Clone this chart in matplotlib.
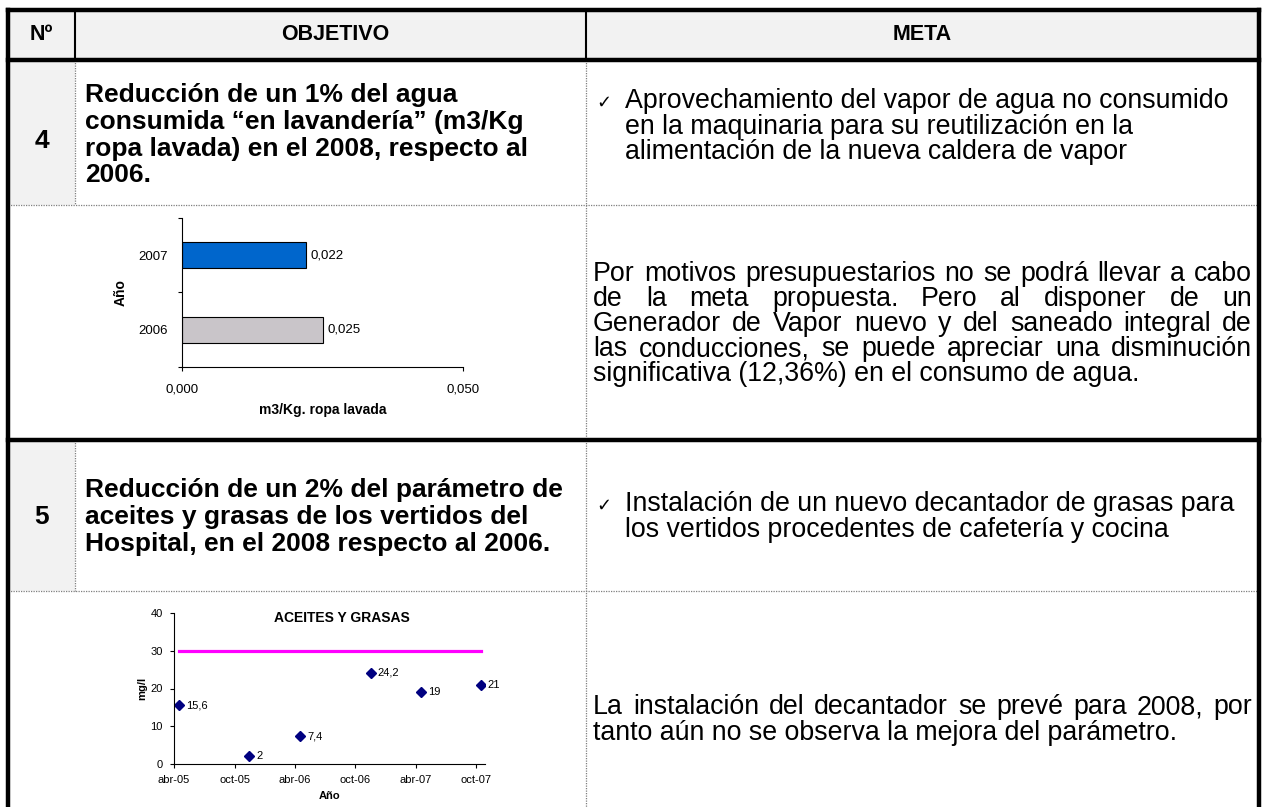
import matplotlib
matplotlib.use("Agg")
import matplotlib.pyplot as plt
from matplotlib.patches import Rectangle
import datetime as dt

plt.rcParams['font.family'] = ['Liberation Sans', 'DejaVu Sans']

W, H = 1265, 807

# ---- data: water per kg of laundry
years = ['2006', '2007']
consumo = [0.025, 0.022]
bar_colors = ['#C9C5C9', '#0066CC']

# ---- data: oils and fats
fechas = [dt.date(2005, 4, 16), dt.date(2005, 11, 14), dt.date(2006, 4, 18),
          dt.date(2006, 11, 16), dt.date(2007, 4, 19), dt.date(2007, 10, 15)]
grasas = [15.6, 2, 7.4, 24.2, 19, 21]
limite = [30, 30, 30, 30, 30, 30]
tick_fechas = [dt.date(2005, 4, 1), dt.date(2005, 10, 1), dt.date(2006, 4, 1),
               dt.date(2006, 10, 1), dt.date(2007, 4, 1), dt.date(2007, 10, 1)]
tick_labels = ['abr-05', 'oct-05', 'abr-06', 'oct-06', 'abr-07', 'oct-07']

# ---- table texts
obj4 = ['Reducción de un 1% del agua',
        'consumida “en lavandería” (m3/Kg',
        'ropa lavada) en el 2008, respecto al',
        '2006.']
meta4 = ['Aprovechamiento del vapor de agua no consumido',
         'en la maquinaria para su reutilización en la',
         'alimentación de la nueva caldera de vapor']
res4 = ['Por motivos presupuestarios no se podrá llevar a cabo',
        'de la meta propuesta. Pero al disponer de un',
        'Generador de Vapor nuevo y del saneado integral de',
        'las conducciones, se puede apreciar una disminución',
        'significativa (12,36%) en el consumo de agua.']
obj5 = ['Reducción de un 2% del parámetro de',
        'aceites y grasas de los vertidos del',
        'Hospital, en el 2008 respecto al 2006.']
meta5 = ['Instalación de un nuevo decantador de grasas para',
         'los vertidos procedentes de cafetería y cocina']
res5 = ['La instalación del decantador se prevé para 2008, por',
        'tanto aún no se observa la mejora del parámetro.']

fig = plt.figure(figsize=(W / 100, H / 100), dpi=100)
bg = fig.add_axes([0, 0, 1, 1])
bg.set_xlim(0, W)
bg.set_ylim(H, 0)
bg.axis('off')
renderer = fig.canvas.get_renderer()

L, R = 8, 1259
C1, C2 = 75, 586
TOP, HB, D1, TK, D2 = 10, 60, 205, 440, 591
gray = '#F2F2F2'
BOLD = 19.0
REG = 19.3

# gray cells
bg.add_patch(Rectangle((L, TOP), R - L, HB - TOP, color=gray, lw=0))
bg.add_patch(Rectangle((L, HB), C1 - L, D1 - HB, color=gray, lw=0))
bg.add_patch(Rectangle((L, TK), C1 - L, D2 - TK, color=gray, lw=0))

dot = dict(color='#7F7F7F', lw=0.9, ls=(0, (1, 1)))
for y in (D1, D2):
    bg.plot([L, R], [y, y], **dot)
bg.plot([C1, C1], [HB, D1], **dot)
bg.plot([C1, C1], [TK, D2], **dot)
bg.plot([C2, C2], [HB, H], **dot)
bg.plot([C1, C1], [TOP, HB], color='black', lw=1.5)
bg.plot([C2, C2], [TOP, HB], color='black', lw=1.5)

thick = dict(color='black', lw=3.2, solid_capstyle='projecting')
bg.plot([L, R], [TOP, TOP], **thick)
bg.plot([L, R], [HB, HB], **thick)
bg.plot([L, R], [TK, TK], **thick)
bg.plot([L, L], [TOP, H], **thick)
bg.plot([R, R], [TOP, H], **thick)

# header
for x, s in [((L + C1) / 2, 'Nº'), (335, 'OBJETIVO'), ((C2 + R) / 2, 'META')]:
    bg.text(x, 35, s, ha='center', va='center', fontsize=15.5, fontweight='bold')

bg.text((L + C1) / 2, 141, '4', ha='center', va='center', fontsize=BOLD, fontweight='bold')
bg.text((L + C1) / 2, 517, '5', ha='center', va='center', fontsize=BOLD, fontweight='bold')


def lines(x, ys, texts, **kw):
    for y, s in zip(ys, texts):
        bg.text(x, y + 9, s, ha='left', va='baseline', **kw)


def justified(x0, x1, ys, texts, **kw):
    for i, (y, s) in enumerate(zip(ys, texts)):
        if i == len(texts) - 1:
            bg.text(x0, y + 9, s, ha='left', va='baseline', **kw)
            continue
        words = s.split()
        ts = [bg.text(0, y + 9, w, ha='left', va='baseline', **kw) for w in words]
        ws = [t.get_window_extent(renderer).width for t in ts]
        gap = (x1 - x0 - sum(ws)) / (len(words) - 1)
        xx = x0
        for t, w in zip(ts, ws):
            t.set_x(round(xx))
            xx += w + gap


lines(85, [93, 120, 147, 173], obj4, fontsize=BOLD, fontweight='bold')
lines(85, [488, 515, 542], obj5, fontsize=BOLD, fontweight='bold')
lines(625, [99, 125, 150], meta4, fontsize=REG)
lines(625, [502, 528], meta5, fontsize=REG)
for y in (99, 502):
    bg.text(604, y + 9, '✓', ha='center', va='baseline', fontsize=13)
justified(593, 1252, [272, 297, 322, 347, 372], res4, fontsize=REG)
justified(593, 1252, [705, 731], res5, fontsize=REG)


def fig_axes(x0, x1, y0, y1):
    return fig.add_axes([x0 / W, 1 - y1 / H, (x1 - x0) / W, (y1 - y0) / H])


# ---- bar chart
ax1 = fig_axes(182, 463, 218, 367)
ax1.patch.set_visible(False)
pos = range(len(years))
ax1.barh(pos, consumo, height=0.35, color=bar_colors, edgecolor='black', lw=0.8)
for p, v in zip(pos, consumo):
    ax1.annotate(('%.3f' % v).replace('.', ','), (v, p), xytext=(3.5, 0),
                 textcoords='offset points', ha='left', va='center', fontsize=9.5)
ax1.set_xlim(0, 0.05)
ax1.set_ylim(-0.5, 1.5)
ax1.set_xticks([0, 0.05])
ax1.set_xticklabels(['0,000', '0,050'], fontsize=9.5)
ax1.set_yticks([-0.5, 0.5, 1.5])
ax1.set_yticklabels([])
ax1.set_yticks(list(pos), minor=True)
ax1.set_yticklabels(years, minor=True, fontsize=9.5)
ax1.tick_params(axis='y', which='minor', length=0, pad=10)
ax1.tick_params(axis='both', which='major', length=3, width=0.8, pad=9)
for s in ('top', 'right'):
    ax1.spines[s].set_visible(False)
for s in ('left', 'bottom'):
    ax1.spines[s].set_linewidth(0.8)
ax1.set_xlabel('m3/Kg. ropa lavada', fontsize=10, fontweight='bold', labelpad=5)
ax1.set_ylabel('Año', fontsize=10, fontweight='bold', labelpad=8)

# ---- scatter chart
ax2 = fig_axes(174, 485, 613, 764)
ax2.patch.set_visible(False)
ax2.plot(fechas, limite, color='#FF00FF', lw=2.3)
ax2.plot(fechas, grasas, ls='none', marker='D', ms=5, color='#000080')
for f, v in zip(fechas, grasas):
    ax2.annotate(('%g' % v).replace('.', ','), (f, v), xytext=(5, 0),
                 textcoords='offset points', ha='left', va='center', fontsize=8)
ax2.set_xlim(dt.date(2005, 4, 1), dt.date(2007, 10, 28))
ax2.set_ylim(0, 40)
ax2.set_yticks([0, 10, 20, 30, 40])
ax2.set_xticks(tick_fechas)
ax2.set_xticklabels(tick_labels)
ax2.tick_params(labelsize=8, length=3, width=0.8, pad=5)
for s in ('top', 'right'):
    ax2.spines[s].set_visible(False)
for s in ('left', 'bottom'):
    ax2.spines[s].set_linewidth(0.8)
ax2.set_xlabel('Año', fontsize=8, fontweight='bold', labelpad=4)
ax2.set_ylabel('mg/l', fontsize=8, fontweight='bold', labelpad=2)
ax2.text(0.54, 0.97, 'ACEITES Y GRASAS', transform=ax2.transAxes, ha='center',
         va='center', fontsize=10, fontweight='bold')

fig.savefig('out.png', dpi=100)
